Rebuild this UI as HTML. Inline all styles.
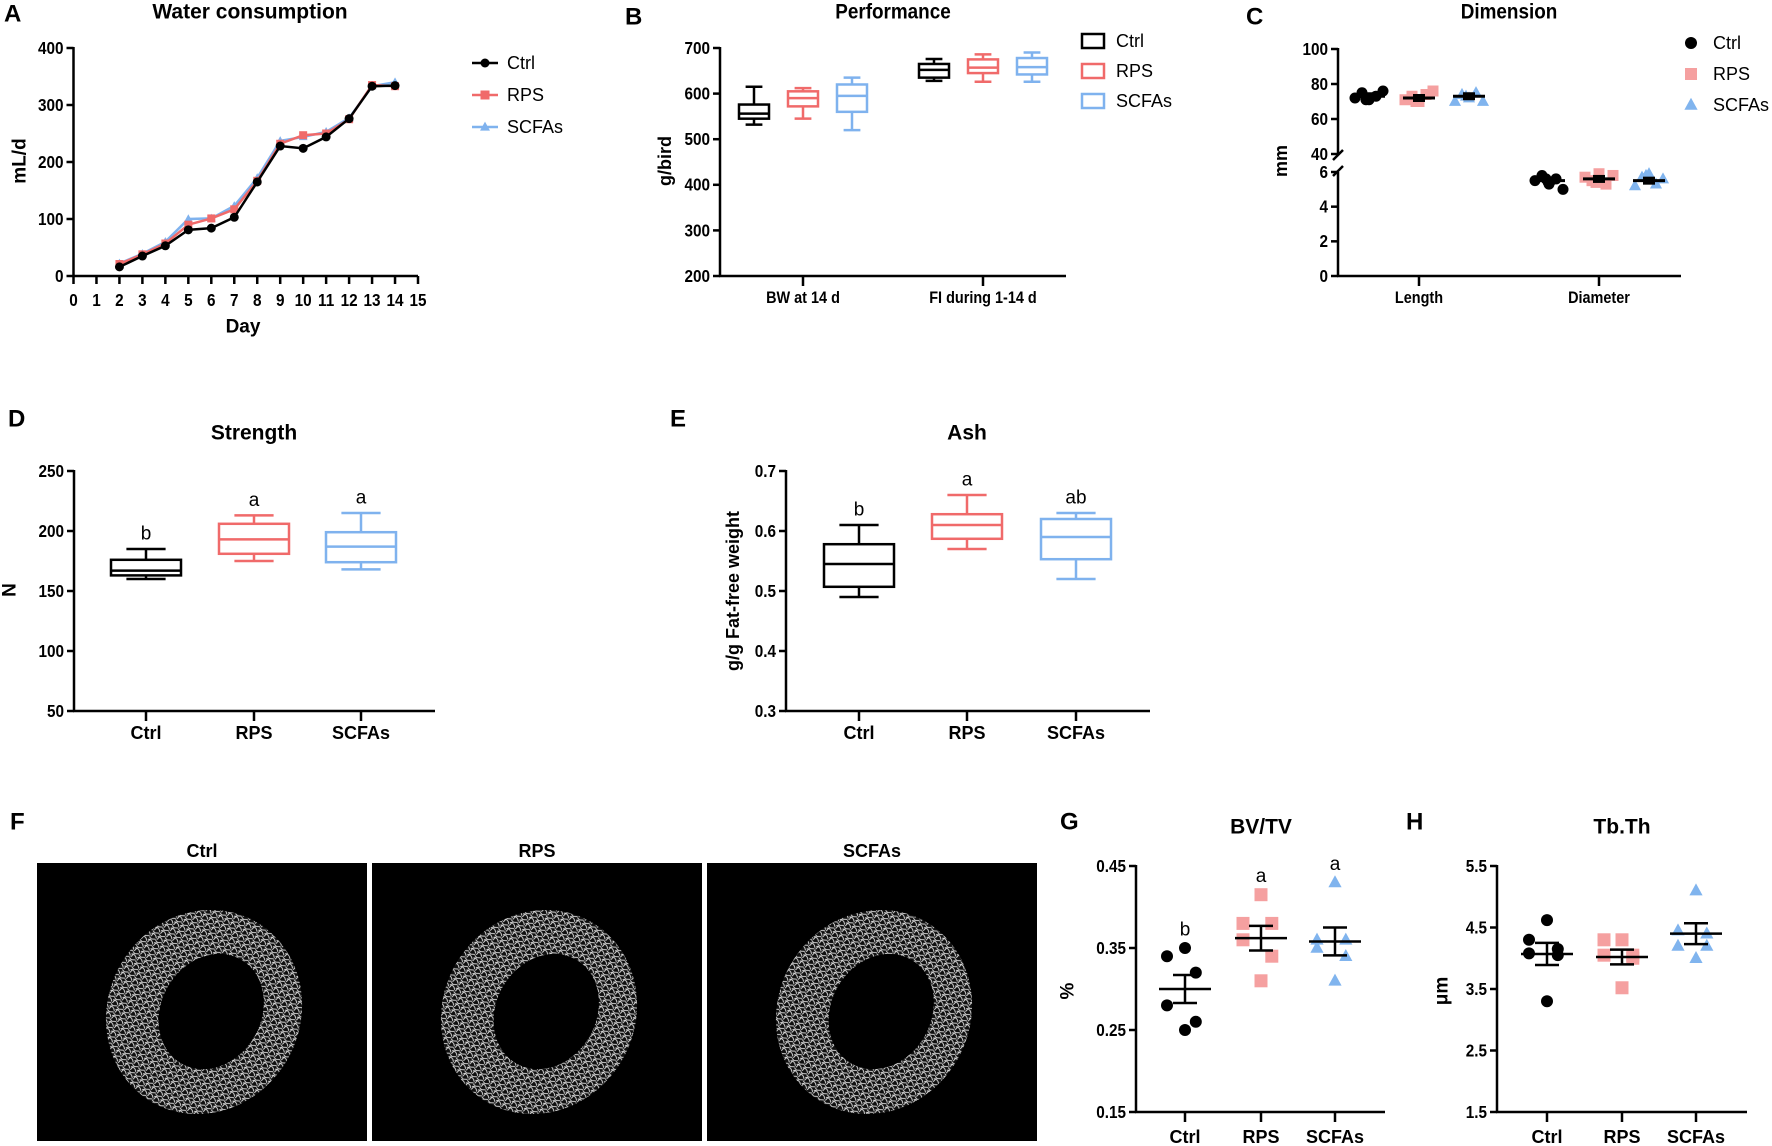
<!DOCTYPE html>
<html><head><meta charset="utf-8"><title>Figure</title>
<style>
html,body{margin:0;padding:0;background:#fff;}
svg{display:block;font-family:"Liberation Sans",Arial,sans-serif;}
</style></head>
<body>
<svg id="fig" width="1772" height="1146" viewBox="0 0 1772 1146" xmlns="http://www.w3.org/2000/svg">
<defs>
<pattern id="bonetex" width="7" height="7" patternUnits="userSpaceOnUse">
<rect width="7" height="7" fill="#111"/>
<path d="M0 1 L3 2 L7 0 M1 7 L2 3 L5 4 L7 6 M0 4 L2 3" stroke="#f2f2f2" stroke-width="0.9" fill="none"/>
</pattern>
</defs>
<g id="root"></g>
</svg>
<script>
// ---------- DATA ----------
const groups = ["Ctrl","RPS","SCFAs"];
// Panel A: water consumption
const daysA = [2,3,4,5,6,7,8,9,10,11,12,13,14];
const waterCtrl = [16,35,53,81,84,103,165,228,224,244,276,333,334];
const waterRPS = [21,38,57,90,101,117,167,232,247,250,275,335,333];
const waterSCFAs = [22,39,60,100,101,123,172,237,244,253,277,333,340];
const ticksA_x = [0,1,2,3,4,5,6,7,8,9,10,11,12,13,14,15];
const ticksA_y = [0,100,200,300,400];
// Panel B: performance boxes [min,q1,median,q3,max]
const catsB = ["BW at 14 d","FI during 1-14 d"];
const bwBoxes = [[532,545,556,576,615],[545,572,590,605,612],[520,560,595,620,635]];
const fiBoxes = [[628,635,652,665,676],[626,645,657,675,686],[626,642,658,678,690]];
const ticksB_y = [200,300,400,500,600,700];
// Panel C: dimension
const catsC = ["Length","Diameter"];
const lengthPts = [[72,75,71,73,76,71],[71,73,70,74,76,70],[70,74,72,75,70,73]];
const diamPts = [[5.5,5.8,5.3,5.6,5.0,5.6],[5.7,5.5,5.9,5.3,5.8,5.4],[5.2,5.7,5.9,5.3,5.6,5.8]];
const lengthMeans = [73,72,73];
const diamMeans = [5.5,5.6,5.5];
const ticksC_low = [0,2,4,6];
const ticksC_high = [40,60,80,100];
// Panel D: strength
const strengthBoxes = [[160,163,167,176,185],[175,181,193,206,213],[168,174,187,199,215]];
const strengthLetters = ["b","a","a"];
const ticksD_y = [50,100,150,200,250];
// Panel E: ash
const ashBoxes = [[0.49,0.507,0.545,0.578,0.61],[0.57,0.587,0.61,0.628,0.66],[0.52,0.553,0.59,0.62,0.63]];
const ashLetters = ["b","a","ab"];
const ticksE_y = [0.3,0.4,0.5,0.6,0.7];
// Panel G: BV/TV
const bvtvPts = [[0.35,0.34,0.32,0.28,0.26,0.25],[0.415,0.38,0.38,0.36,0.34,0.31],[0.43,0.36,0.36,0.35,0.34,0.31]];
const bvtvMean = [0.300,0.362,0.358];
const bvtvSem = [0.017,0.015,0.017];
const bvtvLetters = ["b","a","a"];
const ticksG_y = [0.15,0.25,0.35,0.45];
// Panel H: Tb.Th
const tbthPts = [[4.62,4.3,4.15,4.08,4.05,3.3],[4.3,4.3,4.05,4.05,4.0,3.52],[5.1,4.45,4.4,4.2,4.2,4.0]];
const tbthMean = [4.07,4.02,4.4];
const tbthSem = [0.18,0.12,0.17];
const ticksH_y = [1.5,2.5,3.5,4.5,5.5];

// ---------- STYLE ----------
const COL = ["#000000","#f06a6a","#7fb2ee"];
const COLPT = ["#000000","#f5a0a0","#80b4ee"];
const root = document.getElementById('root');
const NS = "http://www.w3.org/2000/svg";

function mk(tag, attrs, name, parent){
  const el = document.createElementNS(NS, tag);
  for (const k in attrs) el.setAttribute(k, attrs[k]);
  
  
  (parent||root).appendChild(el);
  return el;
}
function txt(x,y,s,name,opts){
  opts = opts||{};
  const el = mk('text',{x:x,y:y,'text-anchor':opts.anchor||'middle','font-size':opts.size||17,
    'font-weight':opts.weight||'bold',fill:opts.fill||'#000','dominant-baseline':'central'},name);
  if (opts.rot) el.setAttribute('transform','rotate(-90 '+x+' '+y+')');
  if (opts.stretch) el.setAttribute('transform','translate('+x+' '+y+') scale('+opts.stretch+',1) translate('+(-x)+' '+(-y)+')');
  el.textContent = s;
  return el;
}
function line(x1,y1,x2,y2,name,color,w){
  return mk('line',{x1:x1,y1:y1,x2:x2,y2:y2,stroke:color||'#000','stroke-width':w||2.5},name);
}
function marker(kind,x,y,s,color,name){
  if(kind===0) return mk('circle',{cx:x,cy:y,r:s,fill:color},name);
  if(kind===1) return mk('rect',{x:x-s,y:y-s,width:2*s,height:2*s,fill:color},name);
  return mk('polygon',{points:(x)+','+(y-s*1.2)+' '+(x-s*1.1)+','+(y+s*0.8)+' '+(x+s*1.1)+','+(y+s*0.8),fill:color},name);
}
function yAxis(x,y0,y1,ticks,scale,fmt,name){
  line(x,y0,x,y1,name+'-y-axis');
  ticks.forEach(t=>{
    const y=scale(t);
    line(x-7,y,x,y,name+'-y-tick');
    txt(x-10,y,fmt(t),name+'-y-tick-label',{anchor:'end',size:18,stretch:0.85});
  });
}
function box(cx,b,scale,w,color,name){
  const [mn,q1,md,q3,mx]=b.map(scale);
  mk('rect',{x:cx-w/2,y:q3,width:w,height:q1-q3,fill:'none',stroke:color,'stroke-width':2.5},name+'-box');
  line(cx-w/2,md,cx+w/2,md,name+'-median',color);
  line(cx,q3,cx,mx,name+'-whisker-top',color);
  line(cx,q1,cx,mn,name+'-whisker-bottom',color);
  line(cx-w*0.28,mx,cx+w*0.28,mx,name+'-cap-top',color);
  line(cx-w*0.28,mn,cx+w*0.28,mn,name+'-cap-bottom',color);
}
function panelLetter(x,y,s){ txt(x,y,s,'panel-label-'+s,{anchor:'start',size:24}); }

// ---------- PANEL A ----------
(function(){
  const x0=73.5,x1=418,yb=276,yt=48;
  const xA=d=>x0+d*(x1-x0)/15;
  const yA=v=>yb-v*(yb-yt)/400;
  panelLetter(4,14,'A');
  txt(250,12,'Water consumption','panel-a-title',{size:21});
  yAxis(x0,yb,yt-1,ticksA_y,yA,t=>String(t),'panel-a');
  line(x0-1,yb,x1,yb,'panel-a-x-axis');
  ticksA_x.forEach(d=>{
    line(xA(d),yb,xA(d),yb+8,'panel-a-x-tick');
    txt(xA(d),300,String(d),'panel-a-x-tick-label',{size:18,stretch:0.85});
  });
  txt(243,327,'Day','panel-a-x-title',{size:19});
  txt(20,161,'mL/d','panel-a-y-title',{size:19,rot:true});
  const series=[waterSCFAs,waterRPS,waterCtrl], kinds=[2,1,0], cols=[COL[2],COL[1],COL[0]], nm=['scfas','rps','ctrl'];
  series.forEach((s,si)=>{
    const pts=s.map((v,i)=>xA(daysA[i])+','+yA(v)).join(' ');
    mk('polyline',{points:pts,fill:'none',stroke:cols[si],'stroke-width':2.5},'panel-a-line-'+nm[si]);
    s.forEach((v,i)=>marker(kinds[si],xA(daysA[i]),yA(v),kinds[si]===0?4.5:4,cols[si],'panel-a-point-'+nm[si]));
  });
  const leg=[['Ctrl',0,COL[0]],['RPS',1,COL[1]],['SCFAs',2,COL[2]]];
  leg.forEach((l,i)=>{
    const y=63+i*32;
    line(472,y,498,y,'panel-a-legend-line-'+l[0],l[2]);
    marker(l[1],485,y,4.5,l[2],'panel-a-legend-marker-'+l[0]);
    txt(507,y,l[0],'panel-a-legend-label',{anchor:'start',size:18,weight:'normal'});
  });
})();

// ---------- PANEL B ----------
(function(){
  const x0=720,x1=1066,yb=276,yt=48;
  const yB=v=>yb-(v-200)*(yb-yt)/500;
  panelLetter(625,17,'B');
  txt(893,12,'Performance','panel-b-title',{size:21,stretch:0.9});
  yAxis(x0,yb,yt-1,ticksB_y,yB,t=>String(t),'panel-b');
  line(x0-1,yb,x1,yb,'panel-b-x-axis');
  txt(665,161,'g/bird','panel-b-y-title',{size:18,rot:true});
  const centers=[803,983];
  [bwBoxes,fiBoxes].forEach((bs,ci)=>{
    const c=centers[ci];
    line(c,yb,c,yb+10,'panel-b-x-tick');
    txt(c,298,catsB[ci],'panel-b-x-tick-label',{size:17,stretch:0.85});
    bs.forEach((b,gi)=>box(c+(gi-1)*49,b,yB,30,COL[gi],'panel-b-'+groups[gi].toLowerCase()));
  });
  groups.forEach((g,i)=>{
    const y=41+i*30;
    mk('rect',{x:1082,y:y-7,width:22,height:14,fill:'none',stroke:COL[i],'stroke-width':2.5},'panel-b-legend-swatch');
    txt(1116,y,g,'panel-b-legend-label',{anchor:'start',size:18,weight:'normal'});
  });
})();

// ---------- PANEL C ----------
(function(){
  const x0=1338,x1=1681,yb=276;
  const yC=v=> v<=6 ? yb - v*(yb-172)/6 : 154 - (v-40)*(154-49)/60;
  panelLetter(1246,17,'C');
  txt(1509,12,'Dimension','panel-c-title',{size:21,stretch:0.9});
  line(x0,yb,x0,172,'panel-c-y-axis-lower');
  line(x0,154,x0,48,'panel-c-y-axis-upper');
  line(x0-5,160,x0+5,150,'panel-c-axis-break');
  line(x0-5,176,x0+5,166,'panel-c-axis-break');
  ticksC_low.concat(ticksC_high).forEach(t=>{
    const y=yC(t);
    line(x0-7,y,x0,y,'panel-c-y-tick');
    txt(x0-10,y,String(t),'panel-c-y-tick-label',{anchor:'end',size:18,stretch:0.85});
  });
  line(x0-1,yb,x1,yb,'panel-c-x-axis');
  txt(1281,161,'mm','panel-c-y-title',{size:18,rot:true});
  const centers=[1419,1599];
  const jit=[-14,-7,0,7,14,-3];
  [lengthPts,diamPts].forEach((gs,ci)=>{
    const c=centers[ci];
    line(c,yb,c,yb+10,'panel-c-x-tick');
    txt(c,298,catsC[ci],'panel-c-x-tick-label',{size:17,stretch:0.85});
    const means=ci===0?lengthMeans:diamMeans;
    gs.forEach((pts,gi)=>{
      const gx=c+(gi-1)*50;
      pts.forEach((v,k)=>marker(gi,gx+jit[k],yC(v),5.5,COLPT[gi],'panel-c-point-'+groups[gi].toLowerCase()));
      line(gx-16,yC(means[gi]),gx+16,yC(means[gi]),'panel-c-mean-'+groups[gi].toLowerCase(),'#000',3);
      mk('rect',{x:gx-6,y:yC(means[gi])-4,width:12,height:8,fill:'#000'},'panel-c-sem-'+groups[gi].toLowerCase());
    });
  });
  groups.forEach((g,i)=>{
    const y=43+i*31;
    marker(i,1691,y,6,COLPT[i],'panel-c-legend-marker');
    txt(1713,y,g,'panel-c-legend-label',{anchor:'start',size:18,weight:'normal'});
  });
})();

// ---------- PANEL D ----------
(function(){
  const x0=74,x1=435,yb=711,yt=471;
  const yD=v=>yb-(v-50)*(yb-yt)/200;
  panelLetter(8,419,'D');
  txt(254,433,'Strength','panel-d-title',{size:21});
  yAxis(x0,yb,yt-1,ticksD_y,yD,t=>String(t),'panel-d');
  line(x0-1,yb,x1,yb,'panel-d-x-axis');
  txt(10,590,'N','panel-d-y-title',{size:19,rot:true});
  const centers=[146,254,361];
  strengthBoxes.forEach((b,gi)=>{
    const c=centers[gi];
    line(c,yb,c,yb+10,'panel-d-x-tick');
    txt(c,733,groups[gi],'panel-d-x-tick-label',{size:18});
    box(c,b,yD,70,COL[gi],'panel-d-'+groups[gi].toLowerCase());
    txt(c,yD(b[4])-15,strengthLetters[gi],'panel-d-sig-letter',{size:19,weight:'normal'});
  });
})();

// ---------- PANEL E ----------
(function(){
  const x0=786,x1=1150,yb=711,yt=471;
  const yE=v=>yb-(v-0.3)*(yb-yt)/0.4;
  panelLetter(670,419,'E');
  txt(967,433,'Ash','panel-e-title',{size:21});
  yAxis(x0,yb,yt-1,ticksE_y,yE,t=>t.toFixed(1),'panel-e');
  line(x0-1,yb,x1,yb,'panel-e-x-axis');
  txt(733,591,'g/g Fat-free weight','panel-e-y-title',{size:18,rot:true});
  const centers=[859,967,1076];
  ashBoxes.forEach((b,gi)=>{
    const c=centers[gi];
    line(c,yb,c,yb+10,'panel-e-x-tick');
    txt(c,733,groups[gi],'panel-e-x-tick-label',{size:18});
    box(c,b,yE,70,COL[gi],'panel-e-'+groups[gi].toLowerCase());
    txt(c,yE(b[4])-15,ashLetters[gi],'panel-e-sig-letter',{size:19,weight:'normal'});
  });
})();

// ---------- PANEL F ----------
(function(){
  panelLetter(10,822,'F');
  const xs=[37,372,707];
  groups.forEach((g,i)=>{
    const x=xs[i];
    txt(x+165,851,g,'panel-f-image-label',{size:18});
    mk('rect',{x:x,y:863,width:330,height:278,fill:'#000'},'panel-f-microct-image-'+g.toLowerCase());
    const cx=x+167, cy=1012;
    const gEl=mk('g',{transform:'rotate(30 '+cx+' '+cy+')'},'panel-f-bone-ring-'+g.toLowerCase());
    mk('path',{d:'M'+(cx-96)+','+cy+' a96,104 0 1,0 192,0 a96,104 0 1,0 -192,0 Z M'+(cx-44)+','+(cy-4)+' a50,60 0 1,1 100,0 a50,60 0 1,1 -100,0 Z',
      fill:'url(#bonetex)','fill-rule':'evenodd',opacity:0.95},'panel-f-cortical-bone',gEl);
  });
})();

// ---------- PANELS G & H ----------
function dotPanel(cfg){
  const {x0,x1,centers,pts,means,sems,ticks,scale,fmt,pre,letters}=cfg;
  const yb=1112;
  yAxis(x0,yb,865,ticks,scale,fmt,pre);
  line(x0-1,yb,x1,yb,pre+'-x-axis');
  const jit2=[0,-18,18,-18,18,0];
  pts.forEach((p,gi)=>{
    const c=centers[gi];
    line(c,yb,c,yb+10,pre+'-x-tick');
    txt(c,1137,groups[gi],pre+'-x-tick-label',{size:18});
    p.forEach((v,k)=>marker(gi,c+jit2[k]*(k%2?1:0.6),scale(v),gi===1?6.5:6,COLPT[gi],pre+'-point-'+groups[gi].toLowerCase()));
    const m=scale(means[gi]),hi=scale(means[gi]+sems[gi]),lo=scale(means[gi]-sems[gi]);
    line(c-26,m,c+26,m,pre+'-mean-'+groups[gi].toLowerCase());
    line(c,hi,c,lo,pre+'-sem-'+groups[gi].toLowerCase());
    line(c-12,hi,c+12,hi,pre+'-sem-cap');
    line(c-12,lo,c+12,lo,pre+'-sem-cap');
    if(letters) txt(c,scale(Math.max(...p))-18,letters[gi],pre+'-sig-letter',{size:19,weight:'normal'});
  });
}
(function(){
  const yG=v=>1112-(v-0.15)*(1112-866)/0.3;
  panelLetter(1060,822,'G');
  txt(1261,827,'BV/TV','panel-g-title',{size:21});
  txt(1068,991,'%','panel-g-y-title',{size:19,rot:true});
  dotPanel({x0:1136,x1:1385,centers:[1185,1261,1335],pts:bvtvPts,means:bvtvMean,sems:bvtvSem,
    ticks:ticksG_y,scale:yG,fmt:t=>t.toFixed(2),pre:'panel-g',letters:bvtvLetters});
})();
(function(){
  const yH=v=>1112-(v-1.5)*(1112-866)/4;
  panelLetter(1406,822,'H');
  txt(1622,827,'Tb.Th','panel-h-title',{size:21});
  txt(1442,991,'μm','panel-h-y-title',{size:19,rot:true});
  dotPanel({x0:1497,x1:1747,centers:[1547,1622,1696],pts:tbthPts,means:tbthMean,sems:tbthSem,
    ticks:ticksH_y,scale:yH,fmt:t=>t.toFixed(1),pre:'panel-h',letters:null});
})();
</script>
</body></html>
